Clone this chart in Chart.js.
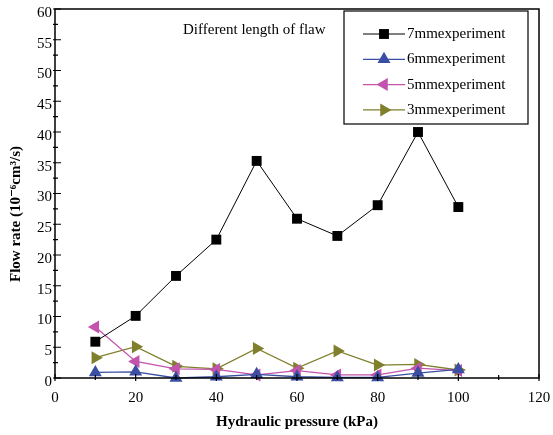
<!DOCTYPE html>
<html><head><meta charset="utf-8">
<script src="https://cdn.jsdelivr.net/npm/chart.js@4/dist/chart.umd.min.js"></script>
<style>html,body{margin:0;padding:0;background:#fff}</style>
</head><body>
<canvas id="c" width="553" height="435"></canvas>
<script>
const pressure = [10, 20, 30, 40, 50, 60, 70, 80, 90, 100];
const flow7mm = [5.9, 10.1, 16.6, 22.5, 35.3, 25.9, 23.1, 28.1, 40.0, 27.8];
const flow6mm = [0.9, 1.0, 0.0, 0.2, 0.6, 0.2, 0.1, 0.1, 0.8, 1.4];
const flow5mm = [8.3, 2.7, 1.5, 1.4, 0.5, 1.2, 0.5, 0.5, 1.6, 1.2];
const flow3mm = [3.3, 5.1, 1.9, 1.5, 4.8, 1.6, 4.4, 2.1, 2.2, 1.3];
const seriesLabels = ['7mmexperiment', '6mmexperiment', '5mmexperiment', '3mmexperiment'];
const annotationText = 'Different length of flaw';
const xTitle = 'Hydraulic pressure (kPa)';
const yTitle = 'Flow rate (10\u207B\u2076cm\u00B3/s)';

const SERIF = '"Liberation Serif", "DejaVu Serif", serif';
const pts = arr => pressure.map((p, i) => ({x: p, y: arr[i]}));

const styles = [
  {color: '#000000', pointStyle: 'rect', radius: 7, rotation: 0, width: 1},
  {color: '#3a4fa3', pointStyle: 'triangle', radius: 7.5, rotation: 0, width: 1.3},
  {color: '#c254ad', pointStyle: 'triangle', radius: 7.5, rotation: -90, width: 1.3},
  {color: '#7f7f2c', pointStyle: 'triangle', radius: 7.5, rotation: 90, width: 1.3}
];
const seriesData = [flow7mm, flow6mm, flow5mm, flow3mm];

const datasets = seriesData.map((d, i) => ({
  label: seriesLabels[i],
  data: pts(d),
  borderColor: styles[i].color,
  backgroundColor: styles[i].color,
  borderWidth: styles[i].width,
  pointStyle: styles[i].pointStyle,
  pointRadius: styles[i].radius,
  pointRotation: styles[i].rotation,
  pointBorderWidth: 0,
  pointBackgroundColor: styles[i].color,
  tension: 0,
  clip: false
}));

function drawMarker(ctx, st, x, y) {
  ctx.save();
  ctx.fillStyle = st.color;
  ctx.translate(x, y);
  ctx.rotate(st.rotation * Math.PI / 180);
  const r = st.radius;
  ctx.beginPath();
  if (st.pointStyle === 'rect') {
    const s = r * Math.SQRT1_2;
    ctx.rect(-s, -s, 2 * s, 2 * s);
  } else {
    ctx.moveTo(0, -r);
    ctx.lineTo(r * Math.sin(2 * Math.PI / 3), -r * Math.cos(2 * Math.PI / 3));
    ctx.lineTo(r * Math.sin(4 * Math.PI / 3), -r * Math.cos(4 * Math.PI / 3));
    ctx.closePath();
  }
  ctx.fill();
  ctx.restore();
}

const framePlugin = {
  id: 'frame',
  afterDraw(chart) {
    const ctx = chart.ctx;
    const a = chart.chartArea;
    const xs = chart.scales.x, ys = chart.scales.y;
    ctx.save();
    ctx.strokeStyle = '#000';
    ctx.lineWidth = 1.5;
    ctx.strokeRect(a.left, a.top, a.right - a.left, a.bottom - a.top);
    ctx.lineWidth = 1.2;
    const xt = xs.ticks.map(t => t.value);
    ctx.beginPath();
    xt.forEach((v, i) => {
      const px = xs.getPixelForValue(v);
      ctx.moveTo(px, a.bottom - 4); ctx.lineTo(px, a.bottom + 3);
      if (i < xt.length - 1) {
        const m = xs.getPixelForValue((v + xt[i + 1]) / 2);
        ctx.moveTo(m, a.bottom - 3); ctx.lineTo(m, a.bottom + 2);
      }
    });
    const yt = ys.ticks.map(t => t.value);
    yt.forEach((v, i) => {
      const py = ys.getPixelForValue(v);
      ctx.moveTo(a.left - 2, py); ctx.lineTo(a.left + 6, py);
      if (i < yt.length - 1) {
        const m = ys.getPixelForValue((v + yt[i + 1]) / 2);
        ctx.moveTo(a.left - 2, m); ctx.lineTo(a.left + 3, m);
      }
    });
    ctx.stroke();

    // y-axis title
    ctx.fillStyle = '#000';
    ctx.save();
    ctx.translate(16, 214);
    ctx.rotate(-Math.PI / 2);
    ctx.font = 'bold 15px ' + SERIF;
    ctx.textAlign = 'center';
    ctx.textBaseline = 'middle';
    ctx.fillText(yTitle, 0, 0);
    ctx.restore();

    // annotation
    ctx.font = '15px ' + SERIF;
    ctx.textAlign = 'left';
    ctx.textBaseline = 'middle';
    ctx.fillText(annotationText, 183, 30);

    // legend
    const bx = 344, by = 11, bw = 184, bh = 113;
    ctx.fillStyle = '#fff';
    ctx.fillRect(bx, by, bw, bh);
    ctx.strokeStyle = '#000';
    ctx.lineWidth = 1.2;
    ctx.strokeRect(bx, by, bw, bh);
    ctx.font = '15px ' + SERIF;
    chart.data.datasets.forEach((ds, i) => {
      const st = styles[i];
      const y = 34 + i * 25.3;
      ctx.strokeStyle = st.color;
      ctx.lineWidth = st.width;
      ctx.beginPath();
      ctx.moveTo(363, y); ctx.lineTo(405, y);
      ctx.stroke();
      drawMarker(ctx, st, 384, y);
      ctx.fillStyle = '#000';
      ctx.fillText(ds.label, 407, y);
    });
    ctx.restore();
  }
};

new Chart(document.getElementById('c'), {
  type: 'line',
  data: {datasets},
  plugins: [framePlugin],
  options: {
    responsive: false,
    animation: false,
    devicePixelRatio: 1,
    layout: {padding: {top: 9, right: 14, left: 0, bottom: 0}},
    plugins: {legend: {display: false}, tooltip: {enabled: false}},
    scales: {
      x: {
        type: 'linear', min: 0, max: 120,
        ticks: {stepSize: 20, color: '#000', padding: 11, font: {family: SERIF, size: 15}, maxRotation: 0},
        grid: {display: false, drawTicks: false}, border: {display: false},
        title: {display: true, text: xTitle, color: '#000', font: {family: SERIF, size: 15, weight: 'bold'}, padding: {top: 0, bottom: 4}},
        afterFit(s) { s.height = 57; s.paddingLeft = 0; s.paddingRight = 0; }
      },
      y: {
        type: 'linear', min: 0, max: 60,
        ticks: {stepSize: 5, color: '#000', padding: 3, labelOffset: 4, font: {family: SERIF, size: 15}},
        grid: {display: false, drawTicks: false}, border: {display: false},
        title: {display: false},
        afterFit(s) { s.width = 55; s.paddingTop = 0; s.paddingBottom = 0; }
      }
    }
  }
});
</script>
</body></html>
